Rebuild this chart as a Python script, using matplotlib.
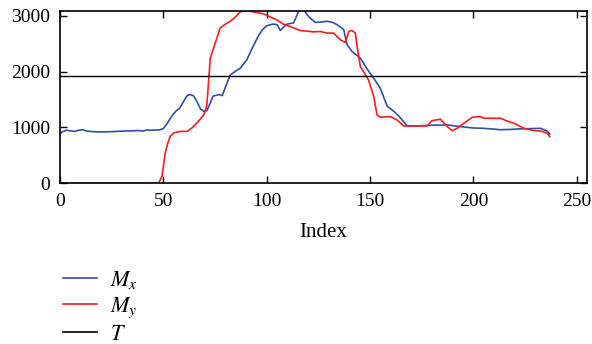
import matplotlib
matplotlib.use("Agg")
import matplotlib.pyplot as plt
from matplotlib.lines import Line2D

# Mx component over the index
mx_idx = [0, 1, 3, 5, 7, 9, 11, 13, 16, 20, 25, 30, 35, 38, 40, 42, 44, 46, 48,
          50, 52, 54, 56, 58, 60, 61.5, 63, 64.5, 66, 68, 69.5, 71, 72.5, 74,
          77, 78.5, 80, 82.4, 85, 87.2, 90.4, 93, 96, 98, 100, 103, 105, 106.6,
          108, 109.8, 113, 115.5, 117.9, 119.5, 121, 123.5, 126, 129.2, 132,
          134, 137.3, 138.9, 141.3, 145.3, 148.9, 151.8, 155, 158.3, 161.5,
          164, 168, 174.4, 180, 187.4, 193.8, 200.2, 205, 210, 213, 218, 222.9,
          228, 232.6, 235.8, 237]
mx_val = [880, 920, 950, 940, 930, 950, 960, 935, 925, 920, 925, 935, 940, 945,
          935, 955, 950, 955, 955, 980, 1080, 1200, 1290, 1350, 1480, 1570,
          1590, 1570, 1480, 1330, 1290, 1300, 1420, 1560, 1590, 1570, 1720, 1940,
          2010, 2060, 2210, 2420, 2640, 2750, 2820, 2850, 2840, 2735, 2790,
          2850, 2870, 3080, 3110, 3020, 2960, 2880, 2885, 2900, 2880, 2840,
          2750, 2480, 2360, 2240, 2030, 1880, 1700, 1380, 1290, 1200, 1030,
          1030, 1040, 1045, 1015, 990, 985, 970, 960, 965, 975, 980, 985, 930,
          880]

# My component over the index
my_idx = [0, 10, 20, 30, 40, 46, 47.6, 49.3, 50.9, 52, 53.3, 55, 57.3, 59,
          61.4, 63.8, 66.2, 69.5, 71, 72.7, 75.1, 77.5, 80, 82.4, 85, 87.2,
          90.4, 93.7, 96, 98.5, 101, 104.9, 108, 111.4, 116.3, 122.7, 126,
          129.2, 132.4, 135.7, 138.1, 139.7, 141.3, 142.9, 144, 145.3, 147,
          149.3, 151.8, 153.4, 155, 159.9, 163.1, 166.3, 169.5, 177.6, 180,
          184.1, 187.4, 189.8, 192.2, 195.4, 199.5, 203.4, 205, 208.2, 213.2,
          216, 219.6, 224.5, 229.3, 232.6, 235.8, 237]
my_val = [0, 0, 0, 0, 0, 0, 0, 120, 540, 700, 840, 900, 925, 930, 930, 990,
          1080, 1220, 1380, 2240, 2510, 2780, 2850, 2900, 2980, 3070, 3100,
          3065, 3050, 3035, 2990, 2926, 2850, 2806, 2735, 2711, 2717, 2688,
          2688, 2568, 2520, 2717, 2735, 2688, 2389, 2090, 1990, 1850, 1550,
          1224, 1183, 1195, 1134, 1027, 1027, 1027, 1122, 1147, 1015, 943, 986,
          1075, 1183, 1195, 1165, 1165, 1165, 1120, 1075, 986, 943, 937, 896,
          835]

# threshold T
t_level = 1920

legend_labels = ["$M_x$", "$M_y$", "$T$"]

plt.rcParams["font.family"] = "Liberation Serif"
plt.rcParams["mathtext.fontset"] = "stix"

fig = plt.figure(figsize=(5.92, 3.44), dpi=100)
ax = fig.add_axes([0.1014, 0.467, 0.8902, 0.502])

ax.plot(mx_idx, mx_val, color="#2f4fa8", lw=1.2)
ax.plot(my_idx, my_val, color="#ff1a1a", lw=1.2)
ax.axhline(t_level, color="black", lw=1.0)

ax.set_xlim(0, 255)
ax.set_ylim(0, 3090)
ax.set_xticks([0, 50, 100, 150, 200, 250])
ax.set_yticks([0, 1000, 2000, 3000])
ax.tick_params(direction="in", top=True, right=True, length=5, width=1.0,
               labelsize=14, pad=7)
for s in ax.spines.values():
    s.set_linewidth(1.2)
ax.set_xlabel("Index", fontsize=15, labelpad=9)

handles = [Line2D([], [], color="#2f4fa8", lw=1.2),
           Line2D([], [], color="#ff1a1a", lw=1.2),
           Line2D([], [], color="black", lw=1.2)]
fig.legend(handles, legend_labels, loc="upper left",
           bbox_to_anchor=(0.087, 0.25), frameon=False, fontsize=16,
           handlelength=1.55, handletextpad=0.6, labelspacing=0.2,
           borderpad=0)

fig.savefig("out.png", dpi=100)
